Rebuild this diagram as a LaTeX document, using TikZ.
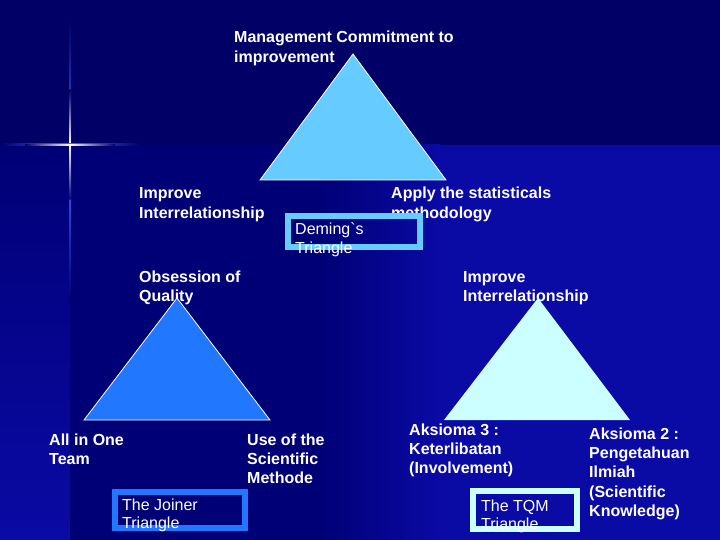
\documentclass[tikz,border=0pt]{standalone}
\usepackage{fontspec}
\setmainfont{Liberation Sans}
\definecolor{bgTop}{HTML}{000066}
\definecolor{bgDark}{HTML}{000076}
\definecolor{bgBright}{HTML}{0A0AA5}
\definecolor{starBlue}{HTML}{3A6AFF}
\definecolor{triA}{HTML}{66CCFF}
\definecolor{triB}{HTML}{2277FF}
\definecolor{triC}{HTML}{CCFFFF}
\tikzset{
  lbl/.style={anchor=base west, align=left, inner sep=0pt, text=white,
    font=\fontsize{16}{19.4}\selectfont\bfseries},
  captext/.style={anchor=base west, align=left, inner sep=0pt, text=white,
    font=\fontsize{16}{18.5}\selectfont},
  tri/.style={draw=white, line width=0.8pt, line join=miter},
  capbox/.style={line width=6pt}
}
\begin{document}
\begin{tikzpicture}[x=1pt,y=-1pt]
\useasboundingbox (0,0) rectangle (720,540);
% background
\fill[bgTop] (0,0) rectangle (720,145);
\shade[top color=bgDark, bottom color=bgBright] (0,145) rectangle (70,540);
\fill[bgDark] (70,145) rectangle (320,540);
\shade[left color=bgDark, right color=bgBright] (320,145) rectangle (440,540);
\fill[bgBright] (440,145) rectangle (720,540);
% star
\shade[top color=bgTop, bottom color=bgDark, middle color=starBlue] (69,20) rectangle (71,300);
\shade[top color=bgTop, bottom color=bgDark, middle color=white] (69.4,90) rectangle (70.6,200);
\shade[left color=bgTop, right color=bgTop, middle color=starBlue] (0,144) rectangle (140,146);
\shade[left color=bgTop, right color=bgTop, middle color=white] (25,144.4) rectangle (115,145.6);
\fill[white] (70,145) circle (1.3);
% labels (anchor = baseline of last line)
\node[lbl] (mgmt) at (234,62.4) {Management Commitment to\\improvement};
\node[lbl] (impL) at (139,218.4) {Improve\\Interrelationship};
\node[lbl] (apply) at (391,218.4) {Apply the statisticals\\methodology};
\node[lbl] (obs) at (139,301.4) {Obsession of\\Quality};
\node[lbl] (impR) at (463,301.4) {Improve\\Interrelationship};
\node[lbl] (team) at (49,464.4) {All in One\\Team};
\node[lbl] (use) at (247,483.8) {Use of the\\Scientific\\Methode};
\node[lbl] (ax3) at (409,473.8) {Aksioma 3 :\\Keterlibatan\\(Involvement)};
\node[lbl] (ax2) at (589,516.6) {Aksioma 2 :\\Pengetahuan\\Ilmiah\\(Scientific\\Knowledge)};
% triangles
\coordinate (dA) at (353,54);
\coordinate (dL) at (260,180);
\coordinate (dR) at (446,180);
\fill[triA] (dA) -- (dL) -- (dR) -- cycle;
\draw[tri] (dA) -- (dL) -- (dR) -- cycle;
\coordinate (jA) at (177,298);
\coordinate (jL) at (84,420);
\coordinate (jR) at (270,420);
\fill[triB] (jA) -- (jL) -- (jR) -- cycle;
\draw[tri] (jA) -- (jL) -- (jR) -- cycle;
\coordinate (tA) at (538,298);
\coordinate (tL) at (444,420);
\coordinate (tR) at (630,420);
\fill[triC] (tA) -- (tL) -- (tR) -- cycle;
% caption boxes
\draw[capbox, draw=triA] (288,216) rectangle (420,247);
\draw[capbox, draw=triB] (115,492) rectangle (245,528);
\draw[capbox, draw=triC] (473,491) rectangle (577,529);
\node[captext] (deming) at (295,253.5) {Deming\textasciigrave s\\Triangle};
\node[captext] (joiner) at (122,528.5) {The Joiner\\Triangle};
\node[captext] (tqm) at (481,529.5) {The TQM\\Triangle};
\end{tikzpicture}
\end{document}
